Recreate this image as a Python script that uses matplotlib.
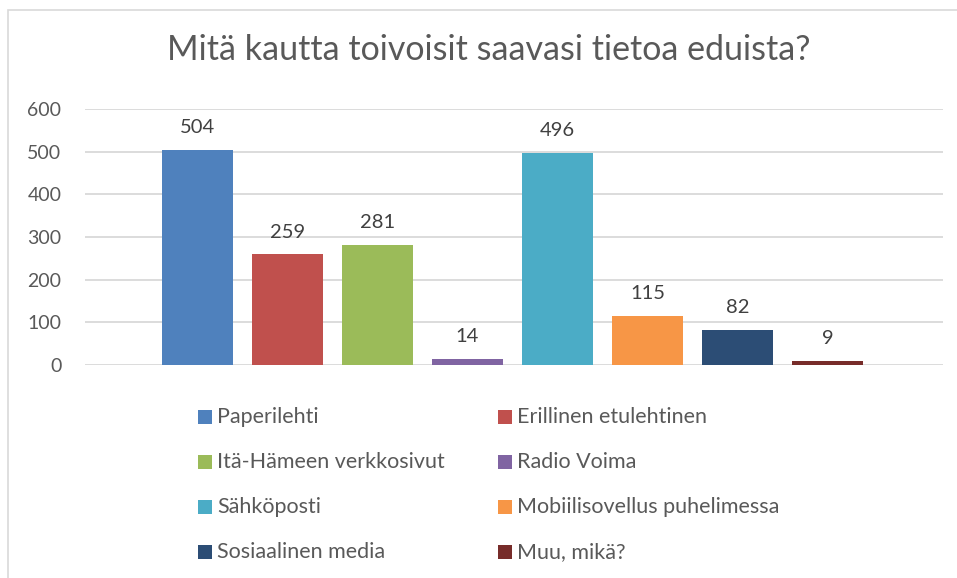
import matplotlib
matplotlib.use("Agg")
import matplotlib.pyplot as plt
from matplotlib.patches import Rectangle

categories = ["Paperilehti", "Erillinen etulehtinen", "Itä-Hämeen verkkosivut", "Radio Voima",
              "Sähköposti", "Mobiilisovellus puhelimessa", "Sosiaalinen media", "Muu, mikä?"]
values = [504, 259, 281, 14, 496, 115, 82, 9]
colors = ["#4F81BD", "#C0504D", "#9BBB59", "#8064A2", "#4BACC6", "#F79646", "#2C4D75", "#772C2A"]
yticks = [0, 100, 200, 300, 400, 500, 600]
title = "Mitä kautta toivoisit saavasi tietoa eduista?"

plt.rcParams['font.family'] = ['Lato', 'DejaVu Sans']

W, H = 957, 578
fig = plt.figure(figsize=(W/100, H/100), dpi=100)

def fx(px): return px / W
def fy(py): return 1 - py / H

# chart border
fig.patches.append(Rectangle((fx(8), fy(600)), fx(1000), fy(10) - fy(600),
                             transform=fig.transFigure, fill=False, edgecolor="#d9d9d9", lw=1.2))

ax = fig.add_axes([fx(85), fy(365), fx(943) - fx(85), fy(109) - fy(365)])
x = list(range(len(values)))
bars = ax.bar(x, values, width=0.79, color=colors, zorder=3)
ax.set_xlim(-1.25, 8.283)
ax.set_ylim(0, 600)
ax.set_yticks(yticks)
ax.set_yticklabels([str(t) for t in yticks])
ax.set_xticks([])
ax.grid(axis='y', color="#d9d9d9", lw=1.3, zorder=0)
for s in ax.spines.values():
    s.set_visible(False)
ax.tick_params(axis='y', length=0, labelsize=14, labelcolor="#595959", pad=17)

for b, v in zip(bars, values):
    ax.annotate(str(v), (b.get_x() + b.get_width()/2, v), xytext=(0, 10), textcoords='offset points',
                ha='center', va='bottom', fontsize=14.5, color="#404040")

fig.text(fx(489), fy(50), title, ha='center', va='center', fontsize=24.5, color="#595959")

# legend
col_x = [205, 505]
row_y = [417, 462, 507, 552]
sq = 14
for i, (c, lab) in enumerate(zip(colors, categories)):
    r, cidx = divmod(i, 2)
    px, py = col_x[cidx], row_y[r]
    fig.patches.append(Rectangle((fx(px - sq/2), fy(py + sq/2)), fx(sq), fy(0) - fy(sq),
                                 transform=fig.transFigure, facecolor=c, edgecolor='none'))
    fig.text(fx(px + 12), fy(py), lab, ha='left', va='center', fontsize=15.5, color="#595959")

fig.savefig("out.png", dpi=100)
